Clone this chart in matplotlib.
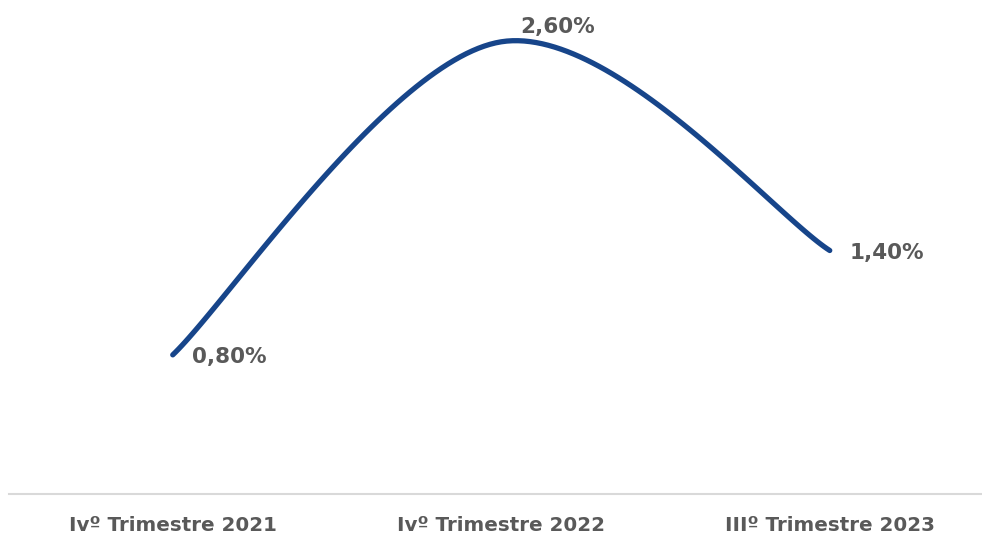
import numpy as np
import matplotlib.pyplot as plt

categories = ["Ivº Trimestre 2021", "Ivº Trimestre 2022", "IIIº Trimestre 2023"]
values = [0.80, 2.60, 1.40]
labels = ["0,80%", "2,60%", "1,40%"]

LINE = "#17458A"
TEXT = "#595959"


def smooth_curve(xs, ys, n=60):
    # Excel-style smoothed line: cubic Bezier segments, tension 1/6
    pts = np.column_stack([xs, ys]).astype(float)
    out = []
    for i in range(len(pts) - 1):
        p0 = pts[i - 1] if i > 0 else pts[i]
        p1, p2 = pts[i], pts[i + 1]
        p3 = pts[i + 2] if i + 2 < len(pts) else pts[i + 1]
        c1 = p1 + (p2 - p0) / 6
        c2 = p2 - (p3 - p1) / 6
        t = np.linspace(0, 1, n)[:, None]
        seg = ((1 - t) ** 3) * p1 + 3 * ((1 - t) ** 2) * t * c1 + 3 * (1 - t) * t ** 2 * c2 + t ** 3 * p2
        out.append(seg if i == 0 else seg[1:])
    return np.vstack(out)


fig = plt.figure(figsize=(9.82, 5.35), dpi=100)
W, H = 982, 535
ax = fig.add_axes([8.5 / W, 41 / H, 985.5 / W, 487 / H])

x = np.arange(len(categories))
curve = smooth_curve(x, values)
ax.plot(curve[:, 0], curve[:, 1], color=LINE, lw=3.8, solid_capstyle="round")

offsets = [(14, -1.5), (14, 10.5), (14, -1.5)]
for xi, v, lab, off in zip(x, values, labels, offsets):
    ax.annotate(lab, (xi, v), xytext=off, textcoords="offset points",
                ha="left", va="center", fontsize=15.5, fontweight="bold", color=TEXT)

ax.set_xlim(-0.5, 2.5)
ax.set_ylim(0, 2.8)
ax.set_xticks(x)
ax.set_xticklabels(categories, fontsize=14.3, fontweight="bold", color=TEXT)
ax.tick_params(axis="x", length=0, pad=15.5)
ax.set_yticks([])
for s in ["top", "right", "left"]:
    ax.spines[s].set_visible(False)
ax.spines["bottom"].set_color("#D9D9D9")
ax.spines["bottom"].set_linewidth(1.5)

fig.savefig("out.png", dpi=100)
